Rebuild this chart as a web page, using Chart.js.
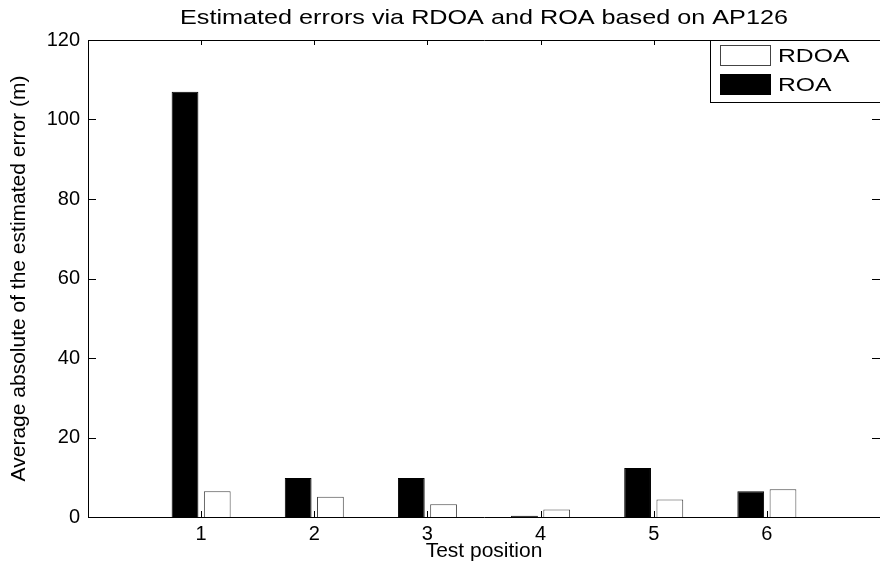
<!DOCTYPE html>
<html>
<head>
<meta charset="utf-8">
<script src="https://cdn.jsdelivr.net/npm/chart.js@4.4.0/dist/chart.umd.min.js"></script>
<style>
  html, body { margin: 0; padding: 0; background: #fff; }
  #wrap { width: 880px; height: 570px; }
</style>
</head>
<body>
<div id="wrap"><canvas id="chart" width="880" height="570"></canvas></div>
<script>
const positions = [1, 2, 3, 4, 5, 6];
const roaErrors = [107.0, 9.8, 9.8, 0.3, 12.3, 6.5];
const rdoaErrors = [6.5, 5.1, 3.2, 1.9, 4.4, 7.0];
const yTicks = [0, 20, 40, 60, 80, 100, 120];
const chartTitle = 'Estimated errors via RDOA and ROA based on AP126';

const FONT = "'Liberation Sans', Arial, sans-serif";

// the original figure was stretched sideways, so text is a bit wider than tall
function wideText(ctx, text, x, y, sx, align) {
  ctx.save();
  ctx.translate(x, y);
  ctx.scale(sx, 1);
  ctx.textAlign = align;
  ctx.fillText(text, 0, 0);
  ctx.restore();
}

// matlab-like frame with inward ticks, title and a boxed legend
const matlabFrame = {
  id: 'matlabFrame',
  afterDraw(chart) {
    const ctx = chart.ctx;
    const area = chart.chartArea;
    const x = chart.scales.x;
    const y = chart.scales.y;
    ctx.save();
    ctx.strokeStyle = '#000';
    ctx.lineWidth = 1;
    ctx.beginPath();
    ctx.rect(Math.round(area.left) + 0.5, Math.round(area.top) + 0.5,
      Math.round(area.right - area.left), Math.round(area.bottom - area.top));
    ctx.stroke();

    ctx.beginPath();
    yTicks.forEach((v) => {
      const py = Math.round(y.getPixelForValue(v)) + 0.5;
      ctx.moveTo(area.left, py);
      ctx.lineTo(area.left + 8, py);
      ctx.moveTo(area.right, py);
      ctx.lineTo(area.right - 8, py);
    });
    positions.forEach((v) => {
      const px = Math.round(x.getPixelForValue(v)) + 0.5;
      ctx.moveTo(px, area.bottom);
      ctx.lineTo(px, area.bottom - 6);
      ctx.moveTo(px, area.top);
      ctx.lineTo(px, area.top + 5);
    });
    ctx.stroke();

    // title
    ctx.fillStyle = '#000';
    ctx.font = '21px ' + FONT;
    ctx.textBaseline = 'alphabetic';
    wideText(ctx, chartTitle, (area.left + area.right) / 2, 23.5, 1.2, 'center');

    // legend box, top right
    const items = chart.data.datasets.slice().reverse();
    const boxLeft = 710;
    const boxTop = Math.round(area.top);
    const boxRight = Math.round(area.right);
    ctx.fillStyle = '#fff';
    ctx.fillRect(boxLeft, boxTop, boxRight - boxLeft, 62);
    ctx.strokeRect(boxLeft + 0.5, boxTop + 0.5, boxRight - boxLeft, 62);
    ctx.font = '19px ' + FONT;
    ctx.textBaseline = 'middle';
    items.forEach((ds, i) => {
      const top = boxTop + 5 + i * 29;
      ctx.fillStyle = ds.backgroundColor;
      ctx.fillRect(720, top, 51, 21);
      ctx.strokeStyle = ds.borderColor;
      ctx.strokeRect(720.5, top + 0.5, 50, 20);
      ctx.fillStyle = '#000';
      wideText(ctx, ds.label, 778, top + 11.5, 1.3, 'left');
    });
    ctx.restore();
  }
};

new Chart(document.getElementById('chart'), {
  type: 'bar',
  data: {
    datasets: [{
      label: 'ROA',
      data: positions.map((p, i) => ({x: p, y: roaErrors[i]})),
      backgroundColor: '#000',
      borderColor: '#000',
      borderWidth: 1
    }, {
      label: 'RDOA',
      data: positions.map((p, i) => ({x: p, y: rdoaErrors[i]})),
      backgroundColor: '#fff',
      borderColor: '#444',
      borderWidth: 1
    }]
  },
  options: {
    responsive: false,
    animation: false,
    categoryPercentage: 0.57,
    barPercentage: 0.83,
    layout: {padding: {right: -6, left: 0, top: 40, bottom: 0}},
    plugins: {
      legend: {display: false},
      tooltip: {enabled: false},
      title: {display: false}
    },
    scales: {
      x: {
        type: 'linear',
        offset: false,
        min: 0,
        max: 7,
        afterBuildTicks: (scale) => {
          scale.ticks = positions.map((v) => ({value: v}));
        },
        afterFit: (scale) => { scale.height = 53; },
        grid: {display: false, drawTicks: false, offset: false},
        border: {display: false},
        ticks: {color: '#000', font: {family: FONT, size: 20}, padding: 5, maxRotation: 0},
        title: {
          display: true,
          text: 'Test position',
          color: '#000',
          font: {family: FONT, size: 21},
          padding: {top: 0, bottom: 6}
        }
      },
      y: {
        min: 0,
        max: 120,
        afterBuildTicks: (scale) => {
          scale.ticks = yTicks.map((v) => ({value: v}));
        },
        afterFit: (scale) => { scale.width = 88; },
        grid: {display: false, drawTicks: false},
        border: {display: false},
        ticks: {color: '#000', font: {family: FONT, size: 20}, padding: 8},
        title: {
          display: true,
          text: 'Average absolute of the estimated error (m)',
          color: '#000',
          font: {family: FONT, size: 21},
          padding: {top: 7, bottom: 0}
        }
      }
    }
  },
  plugins: [matlabFrame]
});
</script>
</body>
</html>
